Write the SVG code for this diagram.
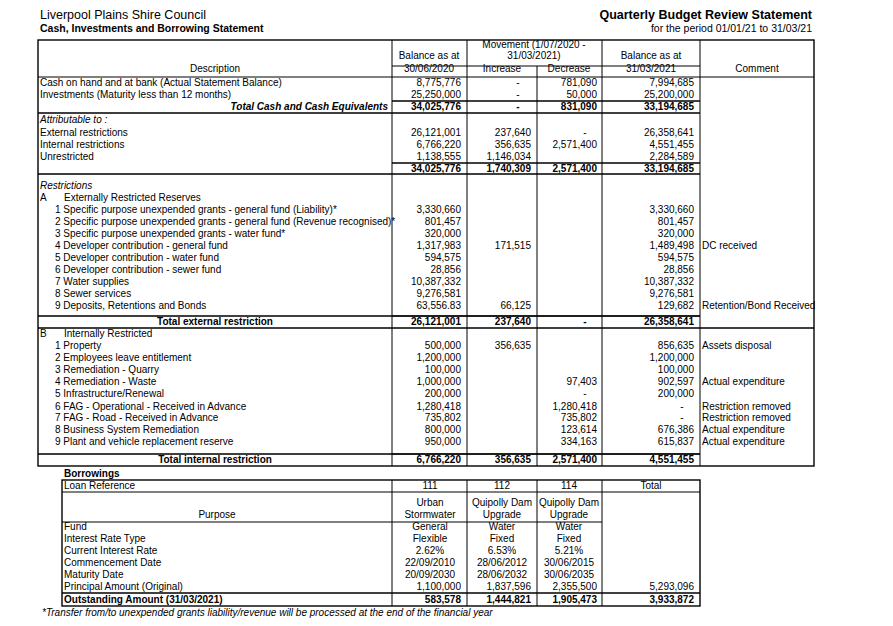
<svg xmlns="http://www.w3.org/2000/svg" width="893" height="626" viewBox="0 0 893 626">
<style>
text{font-family:"Liberation Sans",Arial,sans-serif;font-size:10px;fill:#000}
.r{text-anchor:end}.c{text-anchor:middle}.b{font-weight:bold}.i{font-style:italic}
.l{stroke:#000;stroke-width:1;fill:none}.t{stroke:#000;stroke-width:1.4;fill:none}
</style>
<rect width="893" height="626" fill="#fff"/>
<g id="titles">
<text x="40" y="19" style="font-size:12.5px">Liverpool Plains Shire Council</text>
<text x="40" y="32" class="b" style="font-size:10.5px">Cash, Investments and Borrowing Statement</text>
<text x="812" y="19" class="b r" style="font-size:12.5px">Quarterly Budget Review Statement</text>
<text x="812" y="32" class="r" style="font-size:10.5px">for the period 01/01/21 to 31/03/21</text>
</g>
<g id="grid">
<rect x="38" y="40" width="776" height="426" class="t"/>
<path class="l" d="M392 40V466M467 40V466M537 66V466M602 40V466M700 40V466M392 66H700M38 77H814M392 101H700M392 163H700M392 316H700M392 454H700"/>
<path class="t" d="M38 113H700M38 174H700M38 316H700M38 328H814M38 454H700"/>
<path class="l" d="M392 101H700M392 163H700"/>
</g>
<g id="header">
<text x="215" y="72" class="c">Description</text>
<text x="429" y="59" class="c">Balance as at</text><text x="429" y="72" class="c">30/06/2020</text>
<text x="534" y="48" class="c">Movement (1/07/2020 -</text><text x="534" y="59" class="c">31/03/2021)</text>
<text x="502" y="72" class="c">Increase</text><text x="569" y="72" class="c">Decrease</text>
<text x="651" y="59" class="c">Balance as at</text><text x="651" y="72" class="c">31/03/2021</text>
<text x="757" y="72" class="c">Comment</text>
</g>
<g id="cash">
<text x="40" y="86">Cash on hand and at bank (Actual Statement Balance)</text>
<text x="461" y="86" class="r">8,775,776</text><text x="518" y="86" class="c">-</text><text x="597" y="86" class="r">781,090</text><text x="694" y="86" class="r">7,994,685</text>
<text x="40" y="98">Investments (Maturity less than 12 months)</text>
<text x="461" y="98" class="r">25,250,000</text><text x="518" y="98" class="c">-</text><text x="597" y="98" class="r">50,000</text><text x="694" y="98" class="r">25,200,000</text>
<text x="388" y="110" class="r b i">Total Cash and Cash Equivalents</text>
<text x="461" y="110" class="r b">34,025,776</text><text x="518" y="110" class="c b">-</text><text x="597" y="110" class="r b">831,090</text><text x="694" y="110" class="r b">33,194,685</text>
</g>
<g id="attributable">
<text x="40" y="123" class="i">Attributable to :</text>
<text x="40" y="136">External restrictions</text><text x="461" y="136" class="r">26,121,001</text><text x="531" y="136" class="r">237,640</text><text x="585" y="136" class="c">-</text><text x="694" y="136" class="r">26,358,641</text>
<text x="40" y="148">Internal restrictions</text><text x="461" y="148" class="r">6,766,220</text><text x="531" y="148" class="r">356,635</text><text x="597" y="148" class="r">2,571,400</text><text x="694" y="148" class="r">4,551,455</text>
<text x="40" y="160">Unrestricted</text><text x="461" y="160" class="r">1,138,555</text><text x="531" y="160" class="r">1,146,034</text><text x="694" y="160" class="r">2,284,589</text>
<text x="461" y="172" class="r b">34,025,776</text><text x="531" y="172" class="r b">1,740,309</text><text x="597" y="172" class="r b">2,571,400</text><text x="694" y="172" class="r b">33,194,685</text>
</g>
<g id="external">
<text x="40" y="189" class="i">Restrictions</text>
<text x="40" y="201">A</text><text x="64" y="201">Externally Restricted Reserves</text>
<text x="55" y="213">1 Specific purpose unexpended grants - general fund (Liability)*</text><text x="461" y="213" class="r">3,330,660</text><text x="694" y="213" class="r">3,330,660</text>
<text x="55" y="225">2 Specific purpose unexpended grants - general fund (Revenue recognised)*</text><text x="461" y="225" class="r">801,457</text><text x="694" y="225" class="r">801,457</text>
<text x="55" y="237">3 Specific purpose unexpended grants - water fund*</text><text x="461" y="237" class="r">320,000</text><text x="694" y="237" class="r">320,000</text>
<text x="55" y="249">4 Developer contribution - general fund</text><text x="461" y="249" class="r">1,317,983</text><text x="531" y="249" class="r">171,515</text><text x="694" y="249" class="r">1,489,498</text><text x="702" y="249">DC received</text>
<text x="55" y="261">5 Developer contribution - water fund</text><text x="461" y="261" class="r">594,575</text><text x="694" y="261" class="r">594,575</text>
<text x="55" y="273">6 Developer contribution - sewer fund</text><text x="461" y="273" class="r">28,856</text><text x="694" y="273" class="r">28,856</text>
<text x="55" y="285">7 Water supplies</text><text x="461" y="285" class="r">10,387,332</text><text x="694" y="285" class="r">10,387,332</text>
<text x="55" y="297">8 Sewer services</text><text x="461" y="297" class="r">9,276,581</text><text x="694" y="297" class="r">9,276,581</text>
<text x="55" y="309">9 Deposits, Retentions and Bonds</text><text x="461" y="309" class="r">63,556.83</text><text x="531" y="309" class="r">66,125</text><text x="694" y="309" class="r">129,682</text><text x="702" y="309">Retention/Bond Received</text>
<text x="215" y="325" class="c b">Total external restriction</text><text x="461" y="325" class="r b">26,121,001</text><text x="531" y="325" class="r b">237,640</text><text x="585" y="325" class="c b">-</text><text x="694" y="325" class="r b">26,358,641</text>
</g>
<g id="internal">
<text x="40" y="337">B</text><text x="64" y="337">Internally Restricted</text>
<text x="55" y="349">1 Property</text><text x="461" y="349" class="r">500,000</text><text x="531" y="349" class="r">356,635</text><text x="694" y="349" class="r">856,635</text><text x="702" y="349">Assets disposal</text>
<text x="55" y="361">2 Employees leave entitlement</text><text x="461" y="361" class="r">1,200,000</text><text x="694" y="361" class="r">1,200,000</text>
<text x="55" y="373">3 Remediation - Quarry</text><text x="461" y="373" class="r">100,000</text><text x="694" y="373" class="r">100,000</text>
<text x="55" y="385">4 Remediation - Waste</text><text x="461" y="385" class="r">1,000,000</text><text x="597" y="385" class="r">97,403</text><text x="694" y="385" class="r">902,597</text><text x="702" y="385">Actual expenditure</text>
<text x="55" y="397">5 Infrastructure/Renewal</text><text x="461" y="397" class="r">200,000</text><text x="585" y="397" class="c">-</text><text x="694" y="397" class="r">200,000</text>
<text x="55" y="410">6 FAG - Operational - Received in Advance</text><text x="461" y="410" class="r">1,280,418</text><text x="597" y="410" class="r">1,280,418</text><text x="682" y="410" class="c">-</text><text x="702" y="410">Restriction removed</text>
<text x="55" y="421">7 FAG - Road - Received in Advance</text><text x="461" y="421" class="r">735,802</text><text x="597" y="421" class="r">735,802</text><text x="682" y="421" class="c">-</text><text x="702" y="421">Restriction removed</text>
<text x="55" y="433">8 Business System Remediation</text><text x="461" y="433" class="r">800,000</text><text x="597" y="433" class="r">123,614</text><text x="694" y="433" class="r">676,386</text><text x="702" y="433">Actual expenditure</text>
<text x="55" y="445">9 Plant and vehicle replacement reserve</text><text x="461" y="445" class="r">950,000</text><text x="597" y="445" class="r">334,163</text><text x="694" y="445" class="r">615,837</text><text x="702" y="445">Actual expenditure</text>
<text x="215" y="463" class="c b">Total internal restriction</text><text x="461" y="463" class="r b">6,766,220</text><text x="531" y="463" class="r b">356,635</text><text x="597" y="463" class="r b">2,571,400</text><text x="694" y="463" class="r b">4,551,455</text>
</g>
<g id="borrowings">
<text x="64" y="477" class="b">Borrowings</text>
<rect x="62" y="480" width="638" height="126" class="t"/>
<path class="l" d="M392 480V606M467 480V606M537 480V606M602 480V606M62 492H700M62 522H602"/>
<path class="t" d="M62 593H700"/>
<text x="64" y="489">Loan Reference</text><text x="430" y="489" class="c">111</text><text x="502" y="489" class="c">112</text><text x="569" y="489" class="c">114</text><text x="651" y="489" class="c">Total</text>
<text x="430" y="506" class="c">Urban</text><text x="502" y="506" class="c">Quipolly Dam</text><text x="569" y="506" class="c">Quipolly Dam</text>
<text x="217" y="518" class="c">Purpose</text><text x="430" y="518" class="c">Stormwater</text><text x="502" y="518" class="c">Upgrade</text><text x="569" y="518" class="c">Upgrade</text>
<text x="64" y="530">Fund</text><text x="430" y="530" class="c">General</text><text x="502" y="530" class="c">Water</text><text x="569" y="530" class="c">Water</text>
<text x="64" y="542">Interest Rate Type</text><text x="430" y="542" class="c">Flexible</text><text x="502" y="542" class="c">Fixed</text><text x="569" y="542" class="c">Fixed</text>
<text x="64" y="554">Current Interest Rate</text><text x="430" y="554" class="c">2.62%</text><text x="502" y="554" class="c">6.53%</text><text x="569" y="554" class="c">5.21%</text>
<text x="64" y="566">Commencement Date</text><text x="430" y="566" class="c">22/09/2010</text><text x="502" y="566" class="c">28/06/2012</text><text x="569" y="566" class="c">30/06/2015</text>
<text x="64" y="578">Maturity Date</text><text x="430" y="578" class="c">20/09/2030</text><text x="502" y="578" class="c">28/06/2032</text><text x="569" y="578" class="c">30/06/2035</text>
<text x="64" y="590">Principal Amount (Original)</text><text x="461" y="590" class="r">1,100,000</text><text x="531" y="590" class="r">1,837,596</text><text x="597" y="590" class="r">2,355,500</text><text x="694" y="590" class="r">5,293,096</text>
<text x="64" y="603" class="b">Outstanding Amount (31/03/2021)</text><text x="461" y="603" class="r b">583,578</text><text x="531" y="603" class="r b">1,444,821</text><text x="597" y="603" class="r b">1,905,473</text><text x="694" y="603" class="r b">3,933,872</text>
<text x="42" y="616" class="i">*Transfer from/to unexpended grants liability/revenue will be processed at the end of the financial year</text>
</g>
</svg>
